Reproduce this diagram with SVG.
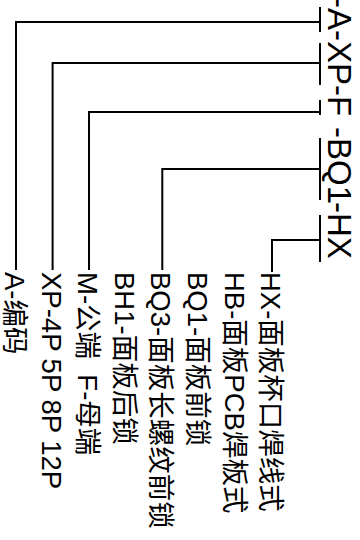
<svg xmlns="http://www.w3.org/2000/svg" width="360" height="540" viewBox="0 0 360 540">
<style>
.t{font-family:"Liberation Sans","Noto Sans CJK SC",sans-serif;fill:#000;white-space:pre}
.top{font-size:33px}
.lab{font-size:27.5px}
.c{fill:none;stroke:#000;stroke-width:2}
</style>
<rect width="360" height="540" fill="#fff"/>
<g id="code">
<text class="t top" transform="translate(328,0) rotate(90)"><tspan x="-3">-A-XP-F</tspan><tspan x="127">-BQ1</tspan><tspan x="202">-HX</tspan></text>
</g>
<g id="connectors" class="c">
<path d="M320 7V32M320 43V85M320 100V115M320 138V200M320 215V262"/>
<path d="M320 22H16V270"/>
<path d="M320 63H52.6V270"/>
<path d="M320 112H89V270"/>
<path d="M320 169H162.3V270"/>
<path d="M320 240H272V272"/>
</g>
<g id="n-A"><text class="t lab" transform="translate(5,272) rotate(90)">A-编码</text></g>
<g id="n-XP"><text class="t lab" transform="translate(41.6,272) rotate(90)">XP-4P 5P 8P 12P</text></g>
<g id="n-F"><text class="t lab" transform="translate(78,272) rotate(90)">M-公端  F-母端</text></g>
<g id="n-BH1"><text class="t lab" transform="translate(114.7,272) rotate(90)">BH1-面板后锁</text></g>
<g id="n-BQ3"><text class="t lab" transform="translate(151.3,272) rotate(90)">BQ3-面板长螺纹前锁</text></g>
<g id="n-BQ1"><text class="t lab" transform="translate(187.9,272) rotate(90)">BQ1-面板前锁</text></g>
<g id="n-HB"><text class="t lab" transform="translate(224.6,272) rotate(90)">HB-面板PCB焊板式</text></g>
<g id="n-HX"><text class="t lab" transform="translate(261,272) rotate(90)">HX-面板杯口焊线式</text></g>
</svg>
